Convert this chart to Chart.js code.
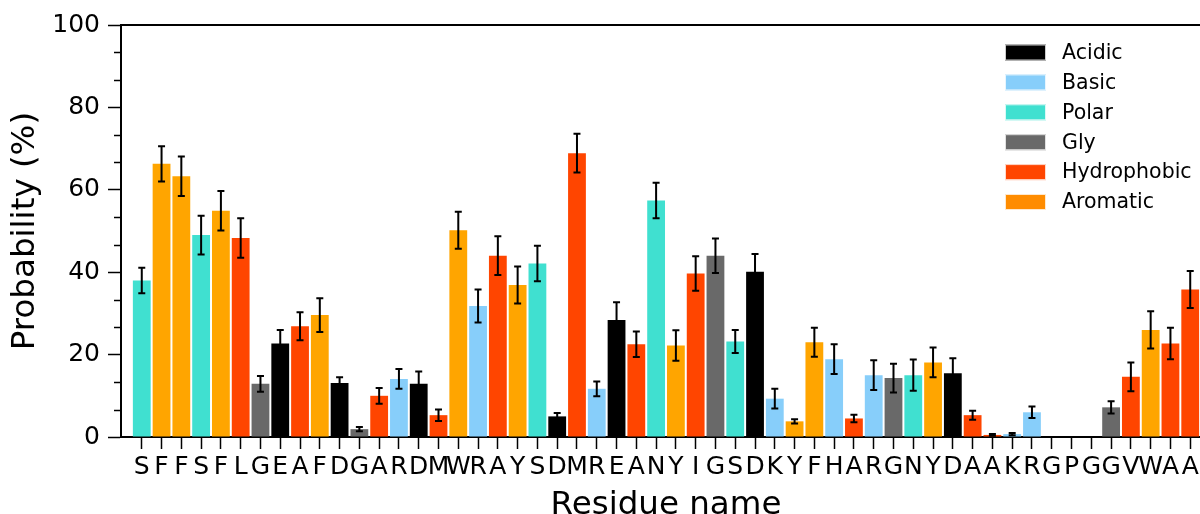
<!DOCTYPE html>
<html>
<head>
<meta charset="utf-8">
<script src="https://cdn.jsdelivr.net/npm/chart.js@4.4.1/dist/chart.umd.min.js"></script>
<style>
  html, body { margin: 0; padding: 0; background: #fff; overflow: hidden; }
  #wrap { width: 1211px; height: 514px; position: relative; }
</style>
</head>
<body>
<div id="wrap"><canvas id="residueChart"></canvas></div>
<script>
// residues along the x axis
const residues = ['S','F','F','S','F','L','G','E','A','F','D','G','A','R','D','M','W','R','A','Y',
  'S','D','M','R','E','A','N','Y','I','G','S','D','K','Y','F','H','A','R','G','N',
  'Y','D','A','A','K','R','G','P','G','G','V','W','A','A'];

// probability (%) and its error for each residue
const probabilities = [38.0, 66.3, 63.3, 49.0, 54.9, 48.3, 12.9, 22.7, 26.9, 29.6,
  13.1, 1.9, 10.0, 14.1, 12.9, 5.3, 50.2, 31.8, 44.0, 36.9,
  42.1, 5.0, 68.9, 11.7, 28.4, 22.5, 57.4, 22.2, 39.7, 44.0,
  23.2, 40.1, 9.3, 3.8, 23.0, 18.9, 4.5, 15.0, 14.3, 15.0,
  18.1, 15.5, 5.3, 0.5, 0.7, 6.0, 0, 0, 0, 7.2,
  14.6, 26.0, 22.7, 35.8];
const errors = [3.1, 4.3, 4.8, 4.7, 4.8, 4.8, 1.9, 3.3, 3.4, 4.1,
  1.4, 0.5, 1.9, 2.4, 3.0, 1.4, 4.5, 4.0, 4.7, 4.5,
  4.3, 0.8, 4.7, 1.8, 4.3, 3.1, 4.3, 3.7, 4.2, 4.2,
  2.8, 4.3, 2.4, 0.5, 3.5, 3.6, 0.9, 3.6, 3.5, 3.8,
  3.6, 3.6, 1.1, 0.2, 0.3, 1.4, 0, 0, 0, 1.5,
  3.5, 4.5, 3.8, 4.5];

// residue classes
const groupNames = ['Acidic', 'Basic', 'Polar', 'Gly', 'Hydrophobic', 'Aromatic'];
const groupColors = ['#000000', '#87CEFA', '#40E0D0', '#696969', '#FF4500', '#FFA500'];
const legendColors = ['#000000', '#87CEFA', '#40E0D0', '#696969', '#FF4500', '#FF8C00'];
const residueGroup = {
  D: 'Acidic', E: 'Acidic',
  R: 'Basic', K: 'Basic', H: 'Basic',
  S: 'Polar', N: 'Polar',
  G: 'Gly',
  A: 'Hydrophobic', L: 'Hydrophobic', I: 'Hydrophobic', M: 'Hydrophobic', V: 'Hydrophobic', P: 'Hydrophobic',
  F: 'Aromatic', W: 'Aromatic', Y: 'Aromatic'
};

const yTicks = [0, 20, 40, 60, 80, 100];

const FONT = "'DejaVu Sans', sans-serif";
const barColors = residues.map(r => groupColors[groupNames.indexOf(residueGroup[r])]);

// error bars, top frame line, minor y ticks and the legend box
const extras = {
  id: 'extras',
  afterDatasetsDraw(chart) {
    const { ctx, scales: { x, y } } = chart;
    ctx.save();
    ctx.strokeStyle = '#000';
    ctx.lineWidth = 2;
    probabilities.forEach((v, i) => {
      const px = x.getPixelForValue(i);
      const top = y.getPixelForValue(v + errors[i]);
      const bot = y.getPixelForValue(Math.max(v - errors[i], 0));
      ctx.beginPath();
      ctx.moveTo(px, top); ctx.lineTo(px, bot);
      ctx.moveTo(px - 3.5, top); ctx.lineTo(px + 3.5, top);
      ctx.moveTo(px - 3.5, bot); ctx.lineTo(px + 3.5, bot);
      ctx.stroke();
    });
    ctx.restore();
  },
  afterDraw(chart) {
    const { ctx, chartArea: a, scales: { y } } = chart;
    ctx.save();
    ctx.strokeStyle = '#000';
    ctx.lineWidth = 2;
    ctx.beginPath();
    ctx.moveTo(a.left - 1, a.top);
    ctx.lineTo(a.right, a.top);
    ctx.stroke();

    // minor ticks between the labelled ones
    ctx.lineWidth = 1.5;
    for (let k = 0; k < yTicks.length - 1; k++) {
      const step = (yTicks[k + 1] - yTicks[k]) / 3;
      for (let m = 1; m < 3; m++) {
        const py = Math.round(y.getPixelForValue(yTicks[k] + m * step)) + 0.5;
        ctx.beginPath();
        ctx.moveTo(a.left - 7, py);
        ctx.lineTo(a.left, py);
        ctx.stroke();
      }
    }

    // legend
    ctx.font = '20.5px ' + FONT;
    ctx.textBaseline = 'middle';
    groupNames.forEach((name, k) => {
      const cy = 52.5 + k * 29.9;
      ctx.fillStyle = legendColors[k];
      ctx.fillRect(1005, cy - 8, 41, 16);
      ctx.strokeStyle = 'rgba(255,255,255,0.8)';
      ctx.lineWidth = 1;
      ctx.strokeRect(1005.5, cy - 7.5, 40, 15);
      ctx.fillStyle = '#000';
      ctx.fillText(name, 1062, cy + 1);
    });
    ctx.restore();
  }
};

const ctx = document.getElementById('residueChart').getContext('2d');
new Chart(ctx, {
  type: 'bar',
  data: {
    datasets: [{
      data: probabilities.map((v, i) => ({ x: i, y: v })),
      backgroundColor: barColors,
      borderWidth: 0,
      barPercentage: 0.9,
      categoryPercentage: 1.0
    }]
  },
  options: {
    responsive: true,
    maintainAspectRatio: false,
    animation: false,
    layout: { padding: { top: 25, right: 0, left: 0, bottom: 0 } },
    plugins: { legend: { display: false }, tooltip: { enabled: false } },
    scales: {
      x: {
        type: 'linear',
        min: -1.05,
        max: 54.05,
        offset: false,
        afterBuildTicks: s => { s.ticks = residues.map((_, i) => ({ value: i })); },
        afterFit: s => { s.height = 77; s.paddingLeft = 0; s.paddingRight = 0; },
        ticks: {
          autoSkip: false,
          maxRotation: 0,
          padding: 3,
          color: '#000',
          font: { family: FONT, size: 25 },
          callback: v => residues[Math.round(v)]
        },
        grid: {
          offset: false,
          drawOnChartArea: false,
          tickLength: 12,
          tickWidth: 1.5,
          tickColor: '#000'
        },
        border: { display: true, color: '#000', width: 2 },
        title: {
          display: true,
          text: 'Residue name',
          color: '#000',
          font: { family: FONT, size: 32.5 },
          padding: { top: 0, bottom: -11 }
        }
      },
      y: {
        min: 0,
        max: 100,
        afterBuildTicks: s => { s.ticks = yTicks.map(v => ({ value: v })); },
        afterFit: s => { s.width = 121; s.paddingTop = 0; s.paddingBottom = 0; },
        ticks: {
          padding: 8,
          color: '#000',
          font: { family: FONT, size: 25 }
        },
        grid: {
          drawOnChartArea: false,
          tickLength: 13,
          tickWidth: 1.5,
          tickColor: '#000'
        },
        border: { display: true, color: '#000', width: 2 },
        title: {
          display: true,
          text: 'Probability (%)',
          color: '#000',
          font: { family: FONT, size: 32.5 },
          padding: { top: 6, bottom: 0 }
        }
      }
    }
  },
  plugins: [extras]
});
</script>
</body>
</html>
